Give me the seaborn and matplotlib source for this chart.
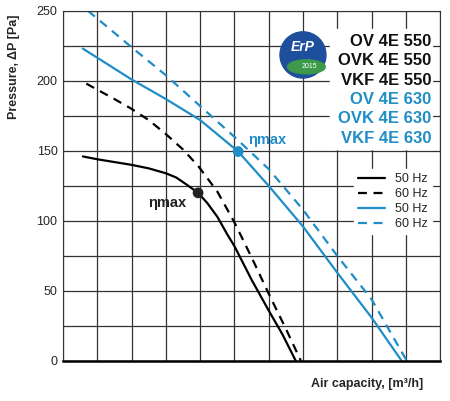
import numpy as np
import pandas as pd
import matplotlib
matplotlib.use("Agg")
import matplotlib.pyplot as plt
import seaborn as sns
from matplotlib.patches import Ellipse

BLUE = "#1f8dc6"

# curve points (x in grid units, y in Pa)
x_550_50 = [0.58, 1.0, 2.0, 2.5, 3.0, 3.3, 3.6, 3.94, 4.2, 4.5, 4.8, 5.0, 5.5, 6.0, 6.4, 6.79]
y_550_50 = [146, 144, 140, 137.5, 134, 131, 126, 120, 113, 103, 90, 82, 58, 36, 19, 0]
x_550_60 = [0.68, 1.5, 2.0, 2.5, 3.0, 3.5, 3.95, 4.5, 5.0, 5.5, 6.0, 6.5, 6.94]
y_550_60 = [198, 187, 180, 172, 162, 151, 139, 121, 99, 74, 48, 23, 0]
x_630_50 = [0.58, 2.0, 3.0, 4.0, 5.11, 6.0, 7.0, 8.0, 9.0, 9.88]
y_630_50 = [223, 201, 187, 172, 149.5, 125, 96, 63, 31, 0]
x_630_60 = [0.73, 2.0, 3.0, 4.0, 5.0, 6.0, 7.0, 8.0, 9.0, 10.03]
y_630_60 = [250, 224, 204, 182, 160, 137, 108, 75, 44, 0]
eta_x = [3.94, 5.11]
eta_y = [120, 149.5]

series = [
    (x_550_50, y_550_50, "black", "-", "50 Hz"),
    (x_550_60, y_550_60, "black", (0, (4, 3)), "60 Hz"),
    (x_630_50, y_630_50, BLUE, "-", "50 Hz"),
    (x_630_60, y_630_60, BLUE, (0, (4, 3)), "60 Hz"),
]

sns.set_style("white")
plt.rcParams["font.family"] = ["Liberation Sans", "DejaVu Sans"]

fig = plt.figure(figsize=(4.5, 4.01), dpi=100)
ax = fig.add_axes([0.14, 0.1, 0.838, 0.873])

for xs, ys, c, ls, lab in series:
    sns.lineplot(x=xs, y=ys, ax=ax, color=c, linestyle=ls, linewidth=1.6,
                 label=lab, sort=False)

ax.scatter(eta_x, eta_y, color=["#222222", BLUE], s=45, zorder=5)
ax.text(2.5, 113, "ηmax", fontsize=10.5, fontweight="bold", color="#222222",
        va="center")
ax.text(5.4, 158, "ηmax", fontsize=10.5, fontweight="bold", color=BLUE,
        va="center")

ax.set_xlim(0, 11)
ax.set_ylim(0, 250)
ax.set_xticks(np.arange(0, 12, 1))
ax.set_xticklabels([])
ax.set_yticks(np.arange(0, 251, 25))
ax.set_yticklabels([str(v) if v % 50 == 0 else "" for v in range(0, 251, 25)],
                   fontsize=9)
ax.tick_params(length=0, pad=4)
ax.grid(True, color="#333333", linewidth=0.9)
for s in ax.spines.values():
    s.set_color("#333333")
ax.spines["bottom"].set_linewidth(1.8)
ax.spines["bottom"].set_color("black")

ax.set_ylabel("Pressure, ΔP [Pa]", fontsize=9, fontweight="bold")
ax.yaxis.set_label_coords(-0.115, 0.84)
fig.text(0.94, 0.035, "Air capacity, [m³/h]", ha="right", fontsize=9,
         fontweight="bold")

# model names on white panel
names = ["OV 4E 550", "OVK 4E 550", "VKF 4E 550",
         "OV 4E 630", "OVK 4E 630", "VKF 4E 630"]
colors = ["#111111"] * 3 + [BLUE] * 3
ax.add_patch(plt.Rectangle((7.8, 151), 2.95, 86, color="white", zorder=3))
for i, (n, c) in enumerate(zip(names, colors)):
    ax.text(10.75, 228 - i * 13.8, n, ha="right", va="center", fontsize=12,
            fontweight="bold", color=c, zorder=4)

# ErP badge
ax.add_patch(Ellipse((7.0, 218.5), 1.34, 33, color="#1d4f9c", zorder=4))
ax.add_patch(Ellipse((7.1, 210), 1.1, 10, color="#3c9a4a", zorder=4))
ax.text(7.0, 224, "ErP", ha="center", va="center", fontsize=10, color="white",
        fontweight="bold", style="italic", zorder=5)
ax.text(7.2, 210, "2015", ha="center", va="center", fontsize=5,
        color="white", zorder=5)

leg = ax.legend(loc="upper right", bbox_to_anchor=(0.995, 0.565), frameon=True,
                fontsize=9, handlelength=2.2, borderpad=0.3, labelspacing=0.25)
leg.get_frame().set_facecolor("white")
leg.get_frame().set_edgecolor("white")
leg.get_frame().set_alpha(1)

fig.savefig("out.png", dpi=100)
